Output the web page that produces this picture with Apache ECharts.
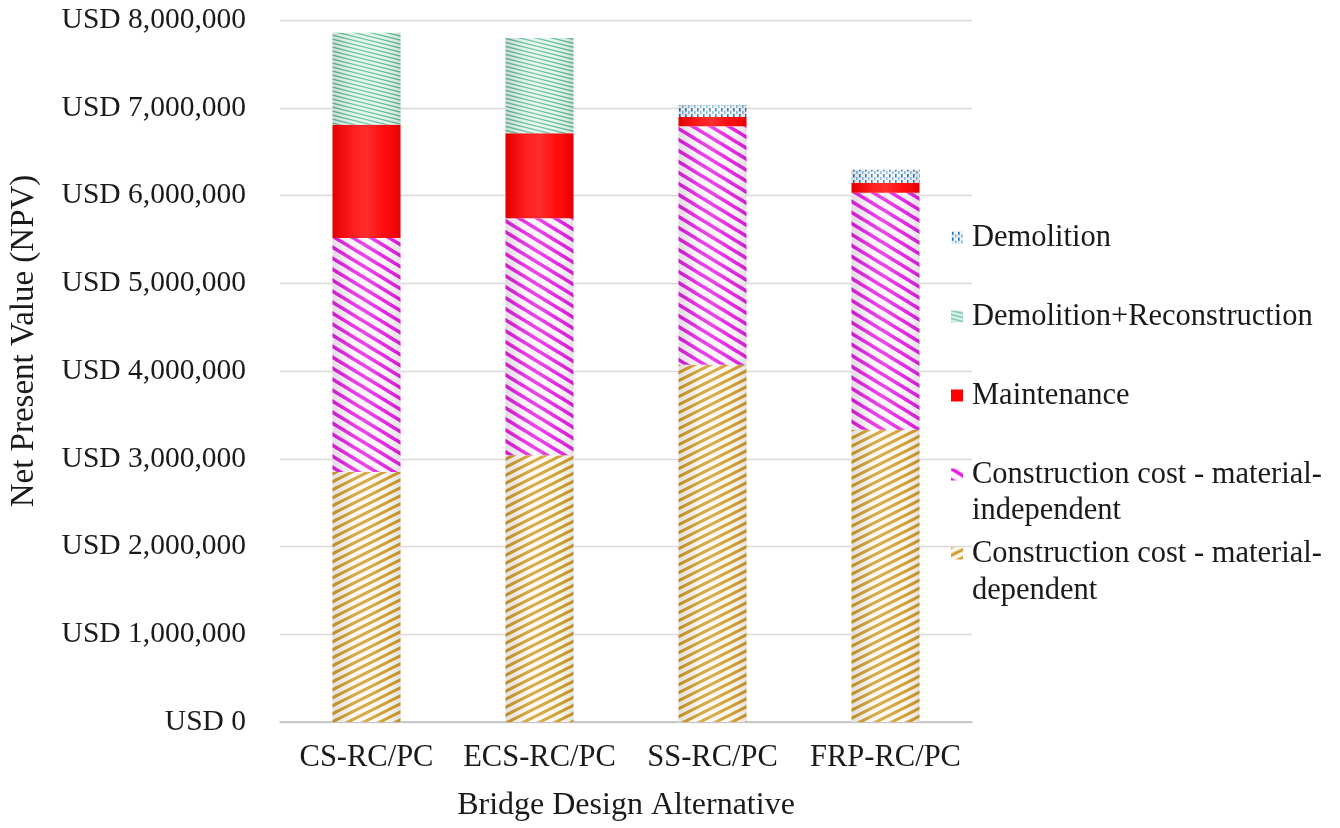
<!DOCTYPE html>
<html>
<head>
<meta charset="utf-8">
<script src="https://cdn.jsdelivr.net/npm/echarts@6/dist/echarts.min.js"></script>
<style>
  html, body { margin: 0; padding: 0; background: #ffffff; }
  #chart { width: 1340px; height: 828px; }
</style>
</head>
<body>
<div id="chart"></div>
<script>
// Bridge design alternatives and their life-cycle cost components (NPV, USD)
const categories = ['CS-RC/PC', 'ECS-RC/PC', 'SS-RC/PC', 'FRP-RC/PC'];
const materialDependent   = [2850000, 3040000, 4070000, 3330000];
const materialIndependent = [2665000, 2700000, 2720000, 2700000];
const maintenance         = [1290000,  970000,  105000,  115000];
const demolitionRecon     = [1050000, 1085000,       0,       0];
const demolition          = [      0,       0,  135000,  148000];

const yTicks = { min: 0, max: 8000000, interval: 1000000 };

const FONT = '"Liberation Serif", "Times New Roman", serif';

// Diagonal stripe tile. dir 'up' draws '/', 'down' draws '\'.
function stripeTile(w, h, bg, fg, lw, dir) {
  const c = document.createElement('canvas');
  c.width = w; c.height = h;
  const g = c.getContext('2d');
  g.fillStyle = bg; g.fillRect(0, 0, w, h);
  g.strokeStyle = fg; g.lineWidth = lw; g.lineCap = 'butt';
  for (const dy of [-h, 0, h]) {
    g.beginPath();
    if (dir === 'up') { g.moveTo(-1, h + dy + h / w); g.lineTo(w + 1, dy - h / w); }
    else { g.moveTo(-1, dy - h / w); g.lineTo(w + 1, h + dy + h / w); }
    g.stroke();
  }
  return { image: c, repeat: 'repeat' };
}

// Small dotted tile for the demolition share
function dotTile() {
  const c = document.createElement('canvas');
  c.width = 6; c.height = 6;
  const g = c.getContext('2d');
  g.fillStyle = '#eef5fa'; g.fillRect(0, 0, 6, 6);
  g.fillStyle = '#2a74ad';
  g.fillRect(1, 0, 1.6, 3.5);
  g.fillStyle = '#7fb5d6';
  g.fillRect(4, 3, 1.6, 3);
  return { image: c, repeat: 'repeat' };
}

const goldStripes    = stripeTile(16, 8, '#fcf9f1', '#d39b2c', 3.0, 'up');
const magentaStripes = stripeTile(18, 11, '#fdf7fd', '#e41ee4', 3.6, 'down');
const greenStripes   = stripeTile(16, 4, '#e6f5ee', '#5cbf98', 1.3, 'down');
const blueDots       = dotTile();

const totals = categories.map((_, i) =>
  materialDependent[i] + materialIndependent[i] + maintenance[i] + demolitionRecon[i] + demolition[i]);

const BAR_W = 68;

function stackSeries(name, data, color) {
  return {
    name, type: 'bar', stack: 'npv', data, barWidth: BAR_W,
    itemStyle: { color },
    emphasis: { disabled: true }
  };
}

const chart = echarts.init(document.getElementById('chart'), null, { renderer: 'canvas' });

chart.setOption({
  animation: false,
  backgroundColor: '#ffffff',
  grid: { left: 277, right: 368, top: 20, bottom: 106, containLabel: false },
  legend: {
    orient: 'vertical',
    left: 946,
    top: 217,
    itemWidth: 12,
    itemHeight: 12,
    itemGap: 48,
    icon: 'rect',
    selectedMode: false,
    data: ['Demolition', 'Demolition+Reconstruction', 'Maintenance',
           'Construction cost - material-independent', 'Construction cost - material-dependent'],
    formatter: function (n) {
      return n.startsWith('Construction') ? 'Construction cost - material-' : n;
    },
    textStyle: { fontFamily: FONT, fontSize: 30.5, color: '#1a1a1a', padding: [0, 0, 0, 4] }
  },
  graphic: [
    { type: 'text', left: 972, top: 495, silent: true,
      style: { text: 'independent', font: '30.5px ' + FONT, fill: '#1a1a1a' } },
    { type: 'text', left: 972, top: 575, silent: true,
      style: { text: 'dependent', font: '30.5px ' + FONT, fill: '#1a1a1a' } }
  ],
  xAxis: [{
    type: 'category',
    data: categories,
    axisTick: { show: false },
    axisLine: { lineStyle: { color: '#bfbfbf', width: 1.5 } },
    axisLabel: { interval: 0, fontFamily: FONT, fontSize: 30.5, color: '#1a1a1a', margin: 20 },
    name: 'Bridge Design Alternative',
    nameLocation: 'middle',
    nameGap: 68,
    nameTextStyle: { fontFamily: FONT, fontSize: 32, color: '#1a1a1a' }
  }],
  yAxis: [{
    type: 'value',
    min: yTicks.min, max: yTicks.max, interval: yTicks.interval,
    axisLine: { show: false },
    axisTick: { show: false },
    splitLine: { lineStyle: { color: '#d9d9d9', width: 1.3 } },
    axisLabel: {
      fontFamily: FONT, fontSize: 29.5, color: '#1a1a1a', margin: 34,
      formatter: v => 'USD ' + v.toLocaleString('en-US')
    },
    name: 'Net Present Value (NPV)',
    nameLocation: 'middle',
    nameGap: 239,
    nameTextStyle: { fontFamily: FONT, fontSize: 33, color: '#1a1a1a', padding: [0, 0, 0, 60] }
  }],
  series: [
    stackSeries('Construction cost - material-dependent', materialDependent, goldStripes),
    stackSeries('Construction cost - material-independent', materialIndependent, magentaStripes),
    stackSeries('Maintenance', maintenance, '#ff0000'),
    stackSeries('Demolition+Reconstruction', demolitionRecon, greenStripes),
    stackSeries('Demolition', demolition, blueDots),
    // cylinder-style shading laid over each full column
    {
      name: 'shade', type: 'bar', data: totals, barWidth: BAR_W, barGap: '-100%',
      silent: true, z: 3,
      itemStyle: {
        color: new echarts.graphic.LinearGradient(0, 0, 1, 0, [
          { offset: 0, color: 'rgba(0,0,0,0.10)' },
          { offset: 0.3, color: 'rgba(255,255,255,0.12)' },
          { offset: 0.5, color: 'rgba(255,255,255,0.18)' },
          { offset: 0.75, color: 'rgba(255,255,255,0.05)' },
          { offset: 1, color: 'rgba(0,0,0,0.10)' }
        ])
      }
    }
  ]
});
</script>
</body>
</html>
